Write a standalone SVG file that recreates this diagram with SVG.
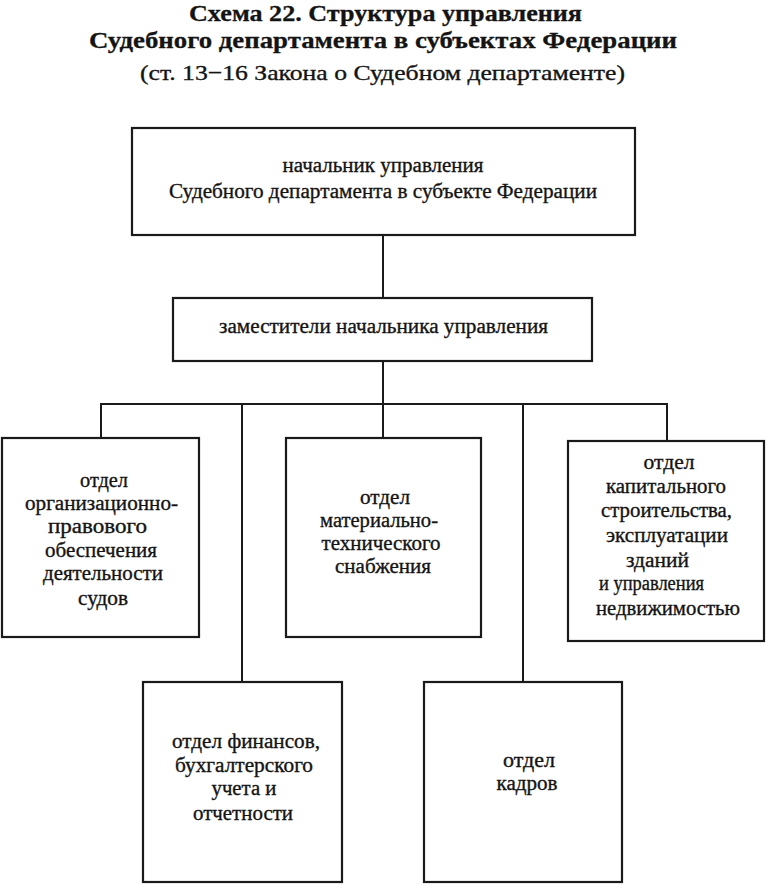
<svg xmlns="http://www.w3.org/2000/svg" width="768" height="884" viewBox="0 0 768 884">
<style>
.bg{fill:#ffffff}
.box{fill:#ffffff;stroke:#1a1a1a;stroke-width:2.2}
.ln{fill:none;stroke:#1a1a1a;stroke-width:2}
.t{font-family:"Liberation Serif","Times New Roman",serif;fill:#141414;stroke:#141414;stroke-width:0.35;text-anchor:middle}
.h{font-weight:bold;font-size:24px;stroke-width:0.3}
.s{font-size:22px}
.n{font-size:20.5px}
.b{font-size:20.5px}
</style>
<rect class="bg" x="0" y="0" width="768" height="884"/>
<g id="title">
<text class="t h" x="385.5" y="21" textLength="393" lengthAdjust="spacingAndGlyphs">Схема 22. Структура управления</text>
<text class="t h" x="383" y="48" textLength="588" lengthAdjust="spacingAndGlyphs">Судебного департамента в субъектах Федерации</text>
<text class="t s" x="382.5" y="80" textLength="485" lengthAdjust="spacingAndGlyphs">(ст. 13−16 Закона о Судебном департаменте)</text>
</g>
<g id="connectors">
<line class="ln" x1="383" y1="235" x2="383" y2="298"/>
<line class="ln" x1="383" y1="361" x2="383" y2="438"/>
<line class="ln" x1="100" y1="404" x2="668" y2="404"/>
<line class="ln" x1="101" y1="404" x2="101" y2="438"/>
<line class="ln" x1="242" y1="404" x2="242" y2="682"/>
<line class="ln" x1="523" y1="404" x2="523" y2="682"/>
<line class="ln" x1="667" y1="404" x2="667" y2="441"/>
</g>
<g id="head">
<rect class="box" x="132" y="128" width="503" height="107"/>
<text class="t n" x="383" y="172" textLength="201" lengthAdjust="spacingAndGlyphs">начальник управления</text>
<text class="t n" x="383" y="198" textLength="428" lengthAdjust="spacingAndGlyphs">Судебного департамента в субъекте Федерации</text>
</g>
<g id="deputies">
<rect class="box" x="173" y="298" width="419" height="63"/>
<text class="t n" x="383.5" y="333" textLength="329" lengthAdjust="spacingAndGlyphs">заместители начальника управления</text>
</g>
<g id="dept-org">
<rect class="box" x="2" y="438" width="197" height="199"/>
<text class="t n" x="104" y="487" textLength="48" lengthAdjust="spacingAndGlyphs">отдел</text>
<text class="t n" x="101.5" y="510" textLength="153" lengthAdjust="spacingAndGlyphs">организационно-</text>
<text class="t n" x="97.5" y="533" textLength="99" lengthAdjust="spacingAndGlyphs">правового</text>
<text class="t n" x="101" y="557" textLength="112" lengthAdjust="spacingAndGlyphs">обеспечения</text>
<text class="t n" x="103" y="580" textLength="120" lengthAdjust="spacingAndGlyphs">деятельности</text>
<text class="t n" x="103" y="605" textLength="50" lengthAdjust="spacingAndGlyphs">судов</text>
</g>
<g id="dept-supply">
<rect class="box" x="286" y="438" width="195" height="199"/>
<text class="t n" x="385" y="504" textLength="50" lengthAdjust="spacingAndGlyphs">отдел</text>
<text class="t n" x="379" y="527" textLength="118" lengthAdjust="spacingAndGlyphs">материально-</text>
<text class="t n" x="381" y="550" textLength="119" lengthAdjust="spacingAndGlyphs">технического</text>
<text class="t n" x="383" y="573" textLength="96" lengthAdjust="spacingAndGlyphs">снабжения</text>
</g>
<g id="dept-build">
<rect class="box" x="568" y="441" width="196" height="200"/>
<text class="t n" x="669" y="469" textLength="51" lengthAdjust="spacingAndGlyphs">отдел</text>
<text class="t n" x="666" y="493" textLength="120" lengthAdjust="spacingAndGlyphs">капитального</text>
<text class="t n" x="666.5" y="517" textLength="131" lengthAdjust="spacingAndGlyphs">строительства,</text>
<text class="t n" x="667" y="542" textLength="122" lengthAdjust="spacingAndGlyphs">эксплуатации</text>
<text class="t n" x="657.5" y="567" textLength="63" lengthAdjust="spacingAndGlyphs">зданий</text>
<text class="t n" x="651.5" y="590" textLength="105" lengthAdjust="spacingAndGlyphs">и управления</text>
<text class="t n" x="668" y="615" textLength="144" lengthAdjust="spacingAndGlyphs">недвижимостью</text>
</g>
<g id="dept-finance">
<rect class="box" x="143" y="682" width="199" height="200"/>
<text class="t b" x="246" y="748" textLength="148" lengthAdjust="spacingAndGlyphs">отдел финансов,</text>
<text class="t b" x="244" y="772" textLength="138" lengthAdjust="spacingAndGlyphs">бухгалтерского</text>
<text class="t b" x="244" y="795" textLength="65" lengthAdjust="spacingAndGlyphs">учета и</text>
<text class="t b" x="243" y="820" textLength="100" lengthAdjust="spacingAndGlyphs">отчетности</text>
</g>
<g id="dept-hr">
<rect class="box" x="424" y="682" width="198" height="200"/>
<text class="t b" x="529" y="767" textLength="52" lengthAdjust="spacingAndGlyphs">отдел</text>
<text class="t b" x="527" y="790" textLength="61" lengthAdjust="spacingAndGlyphs">кадров</text>
</g>
</svg>
